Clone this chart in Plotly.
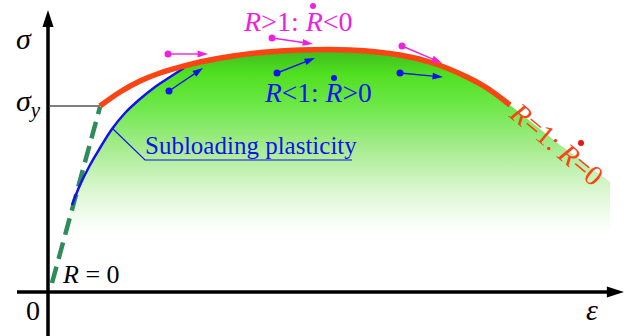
import plotly.graph_objects as go

# ---- data (x: strain units, y: stress units; origin at axes crossing) ----
yield_strain = [52, 72, 92, 112, 136, 152, 185, 219, 252, 302, 352, 385, 419, 439, 462]
yield_stress = [186, 200, 211, 219, 226, 230, 236, 240, 242, 242, 237, 229, 215, 204, 187]

soft_strain = [487, 512, 537, 562]
soft_stress = [167, 147, 129, 110]

subload_strain = [24, 32, 42, 52, 64, 77, 92, 107, 122, 136]
subload_stress = [87, 107, 127, 144, 163, 179, 193, 205, 215, 224]

elastic_strain = [4, 52]
elastic_stress = [9, 185]

sigma_y = 186

over_tail_x = [120, 224, 354]
over_tail_y = [238, 254, 246]
over_head_x = [160, 265, 394]
over_head_y = [238, 248, 229]

sub_tail_x = [121, 229, 352]
sub_tail_y = [201, 219, 219]
sub_head_x = [155, 267, 395]
sub_head_y = [224, 234, 215]

FONT = "Liberation Serif"
ORANGE = "#fa4414"
MAGENTA = "#ee22dd"
BLUE = "#1212ee"
GREEN_D = "#2e8b5a"

fig = go.Figure()

# green gradient region
fill_x = subload_strain + yield_strain[4:] + soft_strain + [562, 16, 24]
fill_y = subload_stress + yield_stress[4:] + soft_stress + [56, 56, 87]
fig.add_trace(go.Scatter(
    x=fill_x, y=fill_y, mode="lines", line=dict(width=0), fill="toself",
    fillgradient=dict(type="vertical", start=60, stop=244,
                      colorscale=[[0, "rgba(255,255,255,1)"], [0.2, "#e0f8d8"],
                                  [0.45, "#a8ec90"], [0.68, "#6ee84a"],
                                  [0.86, "#50e020"], [1, "#3cb81c"]]),
    hoverinfo="skip", showlegend=False))

# sigma_y level line
fig.add_trace(go.Scatter(x=[2, yield_strain[0]], y=[sigma_y, sigma_y], mode="lines",
                         line=dict(color="black", width=1), showlegend=False))
# elastic dashed line
fig.add_trace(go.Scatter(x=elastic_strain, y=elastic_stress, mode="lines",
                         line=dict(color=GREEN_D, width=4.5, dash="17px,8px"), showlegend=False))
# subloading curve
fig.add_trace(go.Scatter(x=subload_strain, y=subload_stress, mode="lines",
                         line=dict(color=BLUE, width=2.5, shape="spline"), showlegend=False))
# yield curve
fig.add_trace(go.Scatter(x=yield_strain, y=yield_stress, mode="lines",
                         line=dict(color=ORANGE, width=5.5, shape="spline"), showlegend=False))

# leader line to label
fig.add_trace(go.Scatter(x=[64, 97, 304], y=[164, 132, 132], mode="lines",
                         line=dict(color=BLUE, width=1.2), showlegend=False))

# small arrows (dot at tail, arrowhead at head)
def arrow(tx, ty, hx, hy, color):
    fig.add_trace(go.Scatter(
        x=[tx, hx], y=[ty, hy], mode="lines+markers",
        line=dict(color=color, width=1.4),
        marker=dict(color=color, symbol="arrow", size=11,
                    angleref="previous", line=dict(width=0)),
        cliponaxis=False, showlegend=False, hoverinfo="skip"))

for tx, ty, hx, hy in zip(over_tail_x, over_tail_y, over_head_x, over_head_y):
    arrow(tx, ty, hx, hy, MAGENTA)
for tx, ty, hx, hy in zip(sub_tail_x, sub_tail_y, sub_head_x, sub_head_y):
    arrow(tx, ty, hx, hy, BLUE)

fig.add_trace(go.Scatter(x=over_tail_x, y=over_tail_y, mode="markers",
                         marker=dict(color=MAGENTA, size=7), showlegend=False, hoverinfo="skip"))
fig.add_trace(go.Scatter(x=sub_tail_x, y=sub_tail_y, mode="markers",
                         marker=dict(color=BLUE, size=7), showlegend=False, hoverinfo="skip"))

# coordinate axes with arrowheads
for ax_x, ax_y in (([0, 0], [-44, 282]), ([-31, 576], [0, 0])):
    fig.add_trace(go.Scatter(
        x=ax_x, y=ax_y, mode="lines+markers",
        line=dict(color="black", width=3.5),
        marker=dict(color="black", symbol="arrow", size=18,
                    angleref="previous", line=dict(width=0)),
        cliponaxis=False, showlegend=False, hoverinfo="skip"))

# dots over R
fig.add_trace(go.Scatter(x=[265], y=[286], mode="markers", marker=dict(color=MAGENTA, size=6),
                         showlegend=False, hoverinfo="skip"))
fig.add_trace(go.Scatter(x=[286], y=[214], mode="markers", marker=dict(color=BLUE, size=6),
                         showlegend=False, hoverinfo="skip"))
fig.add_trace(go.Scatter(x=[533], y=[149], mode="markers", marker=dict(color="#ee1111", size=6),
                         showlegend=False, hoverinfo="skip"))

ann = []

def label(x, y, text, size, color="black", angle=0):
    ann.append(dict(x=x, y=y, xref="x", yref="y", text=text, showarrow=False,
                    font=dict(family=FONT, size=size, color=color), textangle=angle,
                    xanchor="center", yanchor="middle"))

label(-24, 254, "<i>σ</i>", 30)
label(-20, 189, "<i>σ<sub>y</sub></i>", 30)
label(-15, -18, "0", 28)
label(544, -17, "<i>ε</i>", 30)
label(43, 18, "<i>R</i> = 0", 26)
label(250, 271, "<i>R</i>&gt;1: <i>R</i>&lt;0", 28, MAGENTA)
label(270, 200, "<i>R</i>&lt;1: <i>R</i>&gt;0", 27.5, BLUE)
label(203, 147, "Subloading plasticity", 25, BLUE)
label(509, 148, "<i>R</i>=1: <i>R</i>=0", 28.5, ORANGE, 40)

fig.update_layout(
    width=624, height=336, margin=dict(l=0, r=0, t=0, b=0),
    paper_bgcolor="white", plot_bgcolor="white",
    xaxis=dict(range=[-48, 576], visible=False, fixedrange=True),
    yaxis=dict(range=[-44, 292], visible=False, fixedrange=True),
    annotations=ann, showlegend=False, hovermode=False,
)
fig.write_html("out.html", config={"displayModeBar": False},
               post_script="document.body.style.margin='0px';")
